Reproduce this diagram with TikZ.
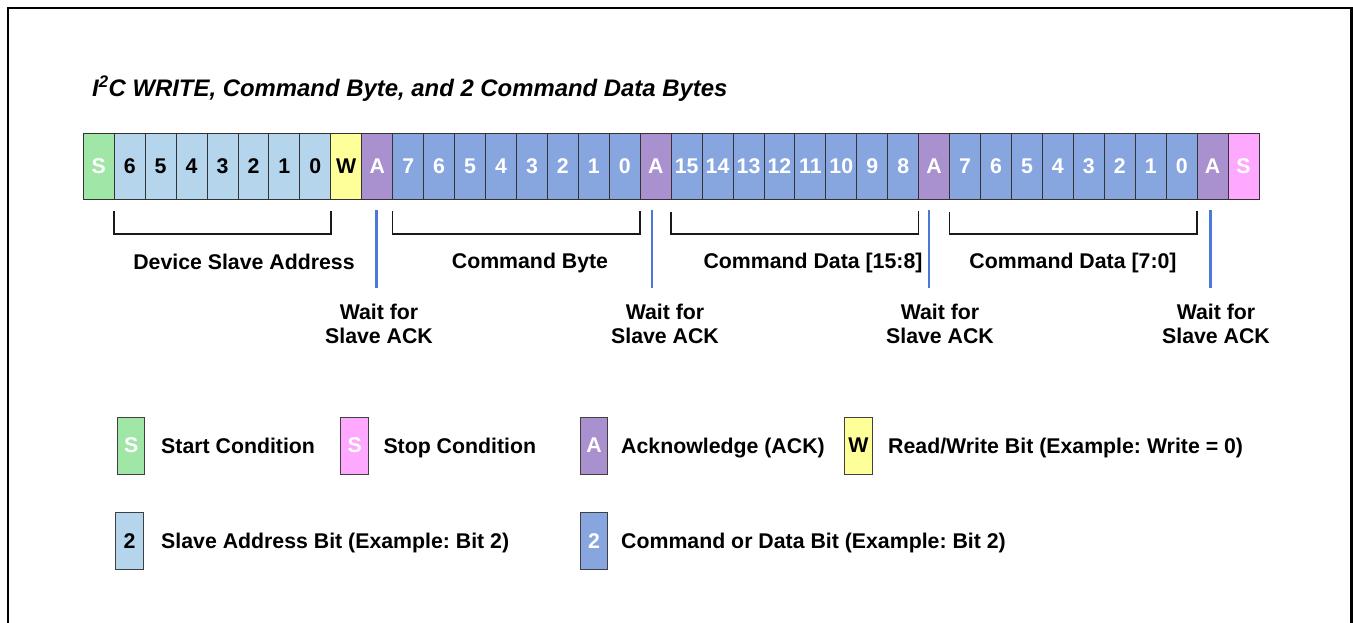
\documentclass[tikz,border=0pt]{standalone}
\usepackage{fontspec}
\setmainfont{Liberation Sans}
\frenchspacing
\definecolor{cstart}{HTML}{A0E6A6}
\definecolor{caddr}{HTML}{B4D5EB}
\definecolor{cwrite}{HTML}{FFFF99}
\definecolor{cack}{HTML}{A990CF}
\definecolor{cdata}{HTML}{87A6E0}
\definecolor{cstop}{HTML}{FFA8FF}
\definecolor{cline}{HTML}{4A7AD6}
\newcommand{\mybitfont}{\fontsize{21.3}{24}\selectfont\bfseries}
\newcommand{\mytitlefont}{\fontsize{23.9}{26}\selectfont\bfseries\itshape}
\tikzset{
  bit/.style={draw=black!80, line width=0.9pt, minimum width=30.94pt, minimum height=66pt,
              inner sep=0pt, outer sep=0pt, font=\mybitfont},
  startbit/.style={fill=cstart, text=white},
  addrbit/.style={fill=caddr, text=black},
  writebit/.style={fill=cwrite, text=black},
  ackbit/.style={fill=cack, text=white},
  databit/.style={fill=cdata, text=white},
  stopbit/.style={fill=cstop, text=white},
  bracket/.style={draw=black!90, line width=1.5pt, line join=miter},
  ackline/.style={draw=cline, line width=2.6pt},
  lbl/.style={font=\mybitfont, inner sep=0pt, align=center},
  legbox/.style={draw=black!75, line width=1pt, minimum width=27.5pt, minimum height=57pt,
                 inner sep=0pt, font=\mybitfont},
  legtext/.style={font=\mybitfont, inner sep=0pt, anchor=base west},
}
\begin{document}
\begin{tikzpicture}[x=1pt, y=-1pt]
\useasboundingbox (0,0) rectangle (1353,623);
\fill[white] (0,0) rectangle (1353,623);
% frame
\draw[line width=2.5pt] (8,623) -- (8,8) -- (1351.5,8) -- (1351.5,623);
% title
\node[anchor=base west, font=\mytitlefont, inner sep=0pt] (title) at (92,96.5)
  {I\textsuperscript{2}C WRITE, Command Byte, and 2 Command Data Bytes};
% bit cells
\foreach \lab/\sty [count=\i from 0] in {S/startbit,
  6/addrbit,5/addrbit,4/addrbit,3/addrbit,2/addrbit,1/addrbit,0/addrbit,
  W/writebit, A/ackbit,
  7/databit,6/databit,5/databit,4/databit,3/databit,2/databit,1/databit,0/databit,
  A/ackbit,
  15/databit,14/databit,13/databit,12/databit,11/databit,10/databit,9/databit,8/databit,
  A/ackbit,
  7/databit,6/databit,5/databit,4/databit,3/databit,2/databit,1/databit,0/databit,
  A/ackbit, S/stopbit}
{
  \node[bit, \sty] (c\i) at ({83.3+(\i+0.5)*30.94}, 166) {\lab};
}
% brackets
\draw[bracket] ([yshift=-12pt]c1.south west) -- ([yshift=-35pt]c1.south west)
  -- ([yshift=-35pt]c7.south east) -- ([yshift=-12pt]c7.south east);
\draw[bracket] ([yshift=-12pt]c10.south west) -- ([yshift=-35pt]c10.south west)
  -- ([yshift=-35pt]c17.south east) -- ([yshift=-12pt]c17.south east);
\draw[bracket] ([yshift=-13pt]c19.south west) -- ([yshift=-35pt]c19.south west)
  -- ([yshift=-35pt]c26.south east) -- ([yshift=-12pt]c26.south east);
\draw[bracket] ([yshift=-13pt]c28.south west) -- ([yshift=-35pt]c28.south west)
  -- ([yshift=-35pt]c35.south east) -- ([yshift=-12pt]c35.south east);
% ack wait lines
\coordinate (a1) at ([xshift=-1pt,yshift=-11pt]c9.south);
\coordinate (a2) at ([xshift=-3.5pt,yshift=-11pt]c18.south);
\coordinate (a3) at ([xshift=-5pt,yshift=-11pt]c27.south);
\coordinate (a4) at ([xshift=-2pt,yshift=-11pt]c36.south);
\foreach \k in {1,2,3,4} { \draw[ackline] (a\k) -- ++(0,78); }
% group labels
\node[lbl] (g1) at (244,262) {Device Slave Address};
\node[lbl] (g2) at (530,263) {Command Byte};
\node[lbl] (g3) at (813,263) {Command Data [15:8]};
\node[lbl] (g4) at (1073,263) {Command Data [7:0]};
% wait labels
\node[lbl] (w1) at (379,324) {Wait for\\Slave ACK};
\node[lbl] (w2) at (665,324) {Wait for\\Slave ACK};
\node[lbl] (w3) at (940,324) {Wait for\\Slave ACK};
\node[lbl] (w4) at (1216,324) {Wait for\\Slave ACK};
% legend
\node[legbox, fill=cstart, text=white] (ls) at (131.2,445.5) {S};
\node[legtext] (lst) at (161,453.5) {Start Condition};
\node[legbox, fill=cstop, text=white] (lp) at (354.7,445.5) {S};
\node[legtext] (lpt) at (383.3,453.5) {Stop Condition};
\node[legbox, fill=cack, text=white] (la) at (594,445.5) {A};
\node[legtext] (lat) at (621,453.5) {Acknowledge (ACK)};
\node[legbox, fill=cwrite, text=black] (lw) at (858.5,445.5) {W};
\node[legtext] (lwt) at (888,453.5) {Read/Write Bit (Example: Write = 0)};
\node[legbox, fill=caddr, text=black] (lb) at (129.5,541) {2};
\node[legtext] (lbt) at (161,548.5) {Slave Address Bit (Example: Bit 2)};
\node[legbox, fill=cdata, text=white] (ld) at (594,541) {2};
\node[legtext] (ldt) at (621,548.5) {Command or Data Bit (Example: Bit 2)};
\end{tikzpicture}
\end{document}
